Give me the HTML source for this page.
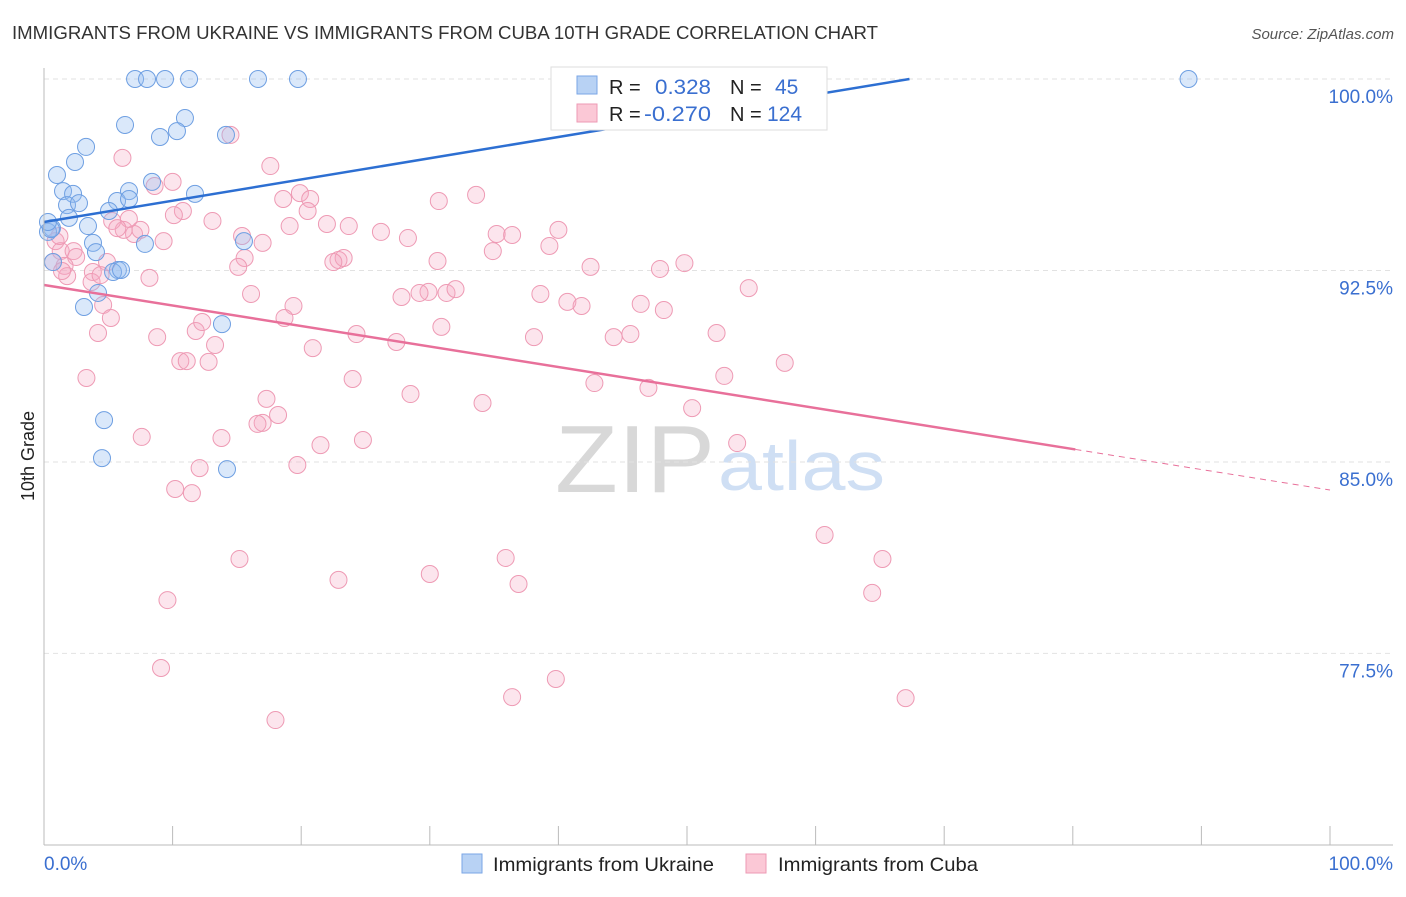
<!DOCTYPE html>
<html><head><meta charset="utf-8"><style>
body{margin:0;background:#fff;font-family:"Liberation Sans",sans-serif}
svg text{font-family:"Liberation Sans",sans-serif}
</style></head><body>
<svg id="c" width="1406" height="892">
<text x="12" y="39" font-size="18.5" fill="#333" textLength="866" lengthAdjust="spacingAndGlyphs">IMMIGRANTS FROM UKRAINE VS IMMIGRANTS FROM CUBA 10TH GRADE CORRELATION CHART</text>
<text x="1394" y="39" font-size="15" fill="#555" font-style="italic" text-anchor="end">Source: ZipAtlas.com</text>
<text x="34" y="456" font-size="18" fill="#222" transform="rotate(-90 34 456)" text-anchor="middle">10th Grade</text>
<text x="555" y="492" font-size="96" fill="#d8d8d8" font-family="Liberation Serif" textLength="160" lengthAdjust="spacingAndGlyphs">ZIP</text>
<text x="718" y="490" font-size="70" fill="#cfdff4" textLength="167" lengthAdjust="spacingAndGlyphs">atlas</text>
<g id="grid"></g><g id="pts"></g><g id="lines"></g>
<line x1="44" y1="68" x2="44" y2="845" stroke="#bbb"/>
<line x1="44" y1="845" x2="1393" y2="845" stroke="#bbb"/>
<text x="44" y="870" font-size="19" fill="#3a6fd0">0.0%</text>
<text x="1393" y="870" font-size="19" fill="#3a6fd0" text-anchor="end">100.0%</text>
<g>
<rect x="551" y="67" width="276" height="63" fill="#fff" stroke="#ddd"/>
<rect x="577" y="76" width="20" height="18" fill="#b8d2f4" stroke="#7aa6e6"/>
<rect x="577" y="104" width="20" height="18" fill="#fbc8d6" stroke="#ee9ab4"/>
<text x="609" y="94" font-size="20" fill="#222">R =</text><text x="655" y="94" font-size="21" fill="#3a6fd0" textLength="56" lengthAdjust="spacingAndGlyphs">0.328</text>
<text x="730" y="94" font-size="20" fill="#222">N =</text><text x="775" y="94" font-size="21" fill="#3a6fd0">45</text>
<text x="609" y="121" font-size="20" fill="#222">R =</text><text x="644" y="121" font-size="21" fill="#3a6fd0" textLength="67" lengthAdjust="spacingAndGlyphs">-0.270</text>
<text x="730" y="121" font-size="20" fill="#222">N =</text><text x="767" y="121" font-size="21" fill="#3a6fd0">124</text>
</g>
<g>
<rect x="462" y="854" width="20" height="19" fill="#b8d2f4" stroke="#7aa6e6"/>
<text x="493" y="871" font-size="19.5" fill="#222" textLength="221" lengthAdjust="spacingAndGlyphs">Immigrants from Ukraine</text>
<rect x="746" y="854" width="20" height="19" fill="#fbc8d6" stroke="#ee9ab4"/>
<text x="778" y="871" font-size="19.5" fill="#222" textLength="200" lengthAdjust="spacingAndGlyphs">Immigrants from Cuba</text>
</g>
</svg>
<script>
const yTicks=[100,92.5,85,77.5];
const yTickLabels=["100.0%","92.5%","85.0%","77.5%"];
const blueX=[7.08,8.01,9.41,11.28,16.64,19.75,89.0,6.30,10.96,9.02,10.34,14.15,3.27,2.41,1.01,8.40,1.48,2.26,6.61,11.74,1.79,2.72,5.68,6.61,5.05,1.94,3.42,0.62,0.31,3.81,7.85,15.55,4.04,0.70,5.75,5.37,5.99,4.20,3.11,13.84,4.67,4.51,14.23,0.54,0.31];
const blueY=[100,100,100,100,100,100,100,98.2,98.47,97.73,97.96,97.81,97.34,96.75,96.24,95.97,95.61,95.50,95.61,95.50,95.06,95.14,95.22,95.30,94.83,94.56,94.24,94.16,94.01,93.58,93.54,93.65,93.22,92.83,92.52,92.44,92.52,91.62,91.07,90.40,86.64,85.15,84.72,94.12,94.40];
const pinkX=[6.1,8.6,10.0,10.8,14.5,17.6,19.9,18.6,20.7,20.5,19.1,22.0,23.7,26.2,28.3,30.7,33.6,35.2,34.9,40.0,39.3,22.9,23.3,22.5,30.6,15.4,17.0,15.6,15.1,13.1,10.1,9.3,7.0,7.5,6.2,5.3,6.6,0.9,1.3,2.3,2.5,1.6,0.7,1.8,3.8,4.9,3.7,8.2,4.6,4.2,5.2,8.8,11.8,12.3,13.3,12.8,10.6,11.1,16.1,19.4,18.7,20.9,24.3,27.4,27.8,29.9,31.3,32.0,29.2,30.9,36.4,38.6,38.1,40.7,41.8,42.5,44.3,45.6,46.4,48.2,47.9,49.8,52.3,54.8,52.9,57.6,42.8,47.0,50.4,53.9,24.0,28.5,34.1,17.3,17.0,18.2,16.6,13.8,7.6,21.5,24.8,3.3,12.1,19.7,10.2,11.5,15.2,22.9,30.0,35.9,36.9,9.6,9.1,18.0,36.4,39.8,60.7,65.2,64.4,67.0,59.0,5.7,4.4,1.2,1.4];
const pinkY=[96.91,95.81,95.97,94.83,97.81,96.59,95.53,95.30,95.30,94.83,94.24,94.32,94.24,94.01,93.77,95.22,95.46,93.93,93.26,94.09,93.46,92.91,92.99,92.83,92.87,93.85,93.58,92.99,92.64,94.44,94.67,93.65,93.93,94.09,94.09,94.44,94.52,93.65,93.26,93.26,93.03,92.68,92.83,92.28,92.44,92.83,92.05,92.21,91.15,90.05,90.64,89.89,90.13,90.48,89.58,88.92,88.95,88.95,91.58,91.11,90.64,89.46,90.01,89.70,91.46,91.66,91.62,91.77,91.62,90.29,93.89,91.58,89.89,91.27,91.11,92.64,89.89,90.01,91.19,90.95,92.56,92.79,90.05,91.81,88.37,88.88,88.09,87.90,87.11,85.74,88.25,87.66,87.31,87.47,86.53,86.84,86.49,85.94,85.98,85.66,85.86,88.29,84.76,84.88,83.94,83.78,81.20,80.38,80.61,81.24,80.22,79.59,76.93,74.89,75.79,76.50,82.14,81.20,79.87,75.75,100,94.16,92.32,93.85,92.48];
const blueFit=[0,94.40,67.3,100];
const pinkFit=[0,91.93,80.2,100,83.90];
const NS='http://www.w3.org/2000/svg';
const X=v=>44+v*12.86, Y=v=>79+(100-v)*25.53;
function mk(t,a,p){const e=document.createElementNS(NS,t);for(const k in a)e.setAttribute(k,a[k]);p.appendChild(e);return e;}
const grid=document.getElementById('grid');
yTicks.forEach((t,i)=>{
 const l=mk('line',{x1:44,x2:1393,y1:Y(t),y2:Y(t),stroke:'#e2e2e2','stroke-dasharray':'5,4'},grid);
 
 
 const tx=mk('text',{x:1393,y:Y(t)+24,'font-size':19,fill:'#3a6fd0','text-anchor':'end'},grid);
 tx.textContent=yTickLabels[i];
 
 
});
for(let i=0;i<=10;i++){
 const l=mk('line',{x1:X(i*10),x2:X(i*10),y1:826,y2:845,stroke:'#bbb'},grid);
 
 
}
const pts=document.getElementById('pts');
pinkX.forEach((x,i)=>{
 const c=mk('circle',{cx:X(x),cy:Y(pinkY[i]),r:8.5,fill:'rgba(245,170,195,0.3)',stroke:'#ee9ab4','stroke-width':1},pts);
 
 
});
blueX.forEach((x,i)=>{
 const c=mk('circle',{cx:X(x),cy:Y(blueY[i]),r:8.5,fill:'rgba(150,190,240,0.35)',stroke:'#6e9fe2','stroke-width':1},pts);
 
 
});
const lines=document.getElementById('lines');
let b=mk('line',{x1:X(blueFit[0]),y1:Y(blueFit[1]),x2:X(blueFit[2]),y2:Y(blueFit[3]),stroke:'#2d6fd2','stroke-width':2.5},lines);


const pAt=x=>pinkFit[1]+(pinkFit[4]-pinkFit[1])*x/pinkFit[3];
let p=mk('line',{x1:X(pinkFit[0]),y1:Y(pAt(0)),x2:X(pinkFit[2]),y2:Y(pAt(pinkFit[2])),stroke:'#e8709a','stroke-width':2.5},lines);


let pd=mk('line',{x1:X(pinkFit[2]),y1:Y(pAt(pinkFit[2])),x2:X(pinkFit[3]),y2:Y(pinkFit[4]),stroke:'#e8709a','stroke-width':1,'stroke-dasharray':'6,5'},lines);


</script>
</body></html>
